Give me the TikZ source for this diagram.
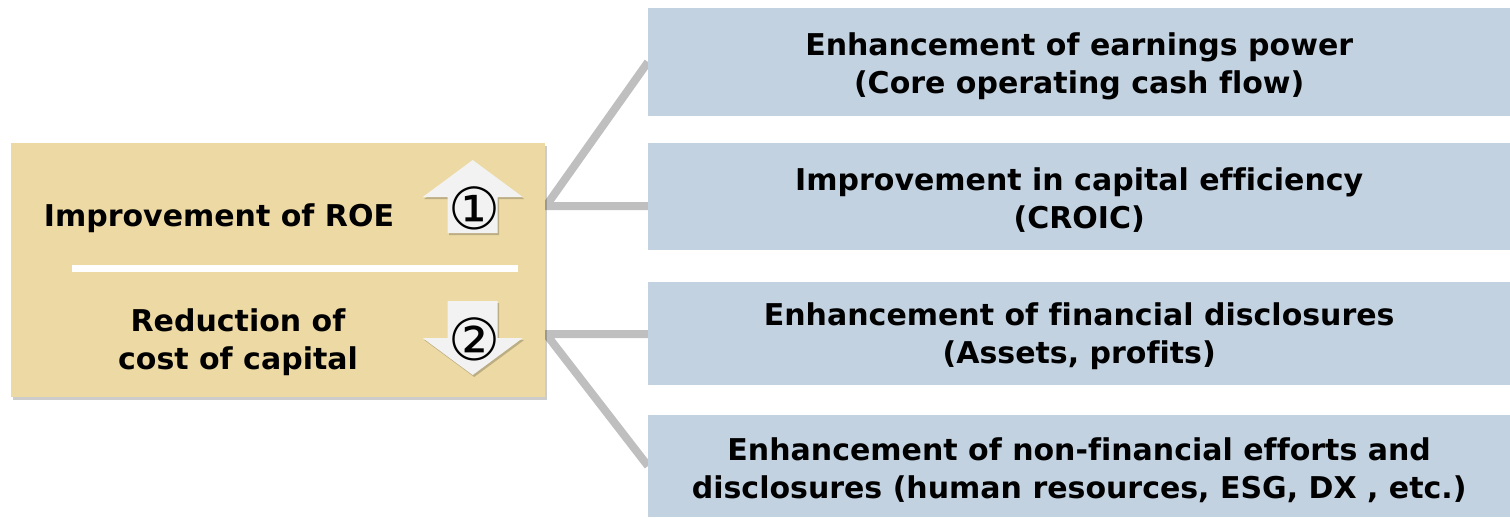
\documentclass[tikz,border=0pt]{standalone}
\usepackage{fontspec}
\setmainfont{DejaVu Sans}[Ligatures=NoCommon]
\usetikzlibrary{shadows,calc}
\pgfdeclarelayer{background}
\pgfsetlayers{background,main}
\definecolor{beige}{HTML}{ECD9A3}
\definecolor{bluebox}{HTML}{C3D2E1}
\definecolor{conn}{HTML}{BFBFBF}
\definecolor{arrowfill}{HTML}{F2F2F2}
\begin{document}
\begin{tikzpicture}[x=1pt,y=-1pt,
  font=\fontsize{30}{38}\selectfont\bfseries,
  rightbox/.style={fill=bluebox, minimum width=862pt, anchor=west, inner sep=0pt},
  leftbox/.style={fill=beige, minimum width=534pt, minimum height=254pt, inner sep=0pt,
    drop shadow={shadow xshift=2pt, shadow yshift=-3pt, fill=black, opacity=0.2}},
  updown/.style={fill=arrowfill, draw=none,
    drop shadow={shadow xshift=1.5pt, shadow yshift=-2pt, fill=black, opacity=0.2}},
  connector/.style={draw=conn, line width=8pt, line join=round},
  circnum/.style={font=\fontsize{58}{58}\selectfont\mdseries, inner sep=0pt},
  lbl/.style={align=center, inner sep=0pt}]
\useasboundingbox (0,0) rectangle (1510,517);

% right boxes
\node[rightbox, minimum height=108pt] (B1) at (648,62) {};
\node[rightbox, minimum height=107pt] (B2) at (648,196.5) {};
\node[rightbox, minimum height=103pt] (B3) at (648,333.5) {};
\node[rightbox, minimum height=102pt] (B4) at (648,466) {};
\node[lbl] (t1) at ([yshift=-4pt]B1.center)
  {Enhancement of earnings power\\(Core operating cash flow)};
\node[lbl] (t2) at ([yshift=-4pt]B2.center)
  {Improvement in capital efficiency\\(CROIC)};
\node[lbl] (t3) at ([yshift=-3pt]B3.center)
  {Enhancement of financial disclosures\\(Assets, profits)};
\node[lbl] (t4) at ([yshift=-4pt]B4.center)
  {Enhancement of non-financial efforts and\\disclosures (human resources, ESG, DX , etc.)};

% left box
\node[leftbox] (L) at (278,270) {};
\draw[white, line width=7pt] (72,268) -- (518,268);
\node[lbl] (roe) at (219,218) {Improvement of ROE};
\node[lbl] (red) at (238,342) {Reduction of\\cost of capital};

% arrows
\path[updown] (472.7,160) -- (522.7,197) -- (497.7,197) -- (497.7,233)
  -- (447.7,233) -- (447.7,197) -- (422.7,197) -- cycle;
\path[updown] (472.7,375) -- (522.7,338) -- (497.7,338) -- (497.7,301)
  -- (447.7,301) -- (447.7,338) -- (422.7,338) -- cycle;
\node[circnum] (n1) at (474,208) {①};
\node[circnum] (n2) at (474,339) {②};

% connectors
\coordinate (j1) at (546,206);
\coordinate (j2) at (546,334);
\begin{pgfonlayer}{background}
\draw[connector] (B1.west) -- (j1) -- (j1 -| B2.west);
\draw[connector] (B4.west) -- (j2) -- (j2 -| B3.west);
\end{pgfonlayer}
\end{tikzpicture}
\end{document}
